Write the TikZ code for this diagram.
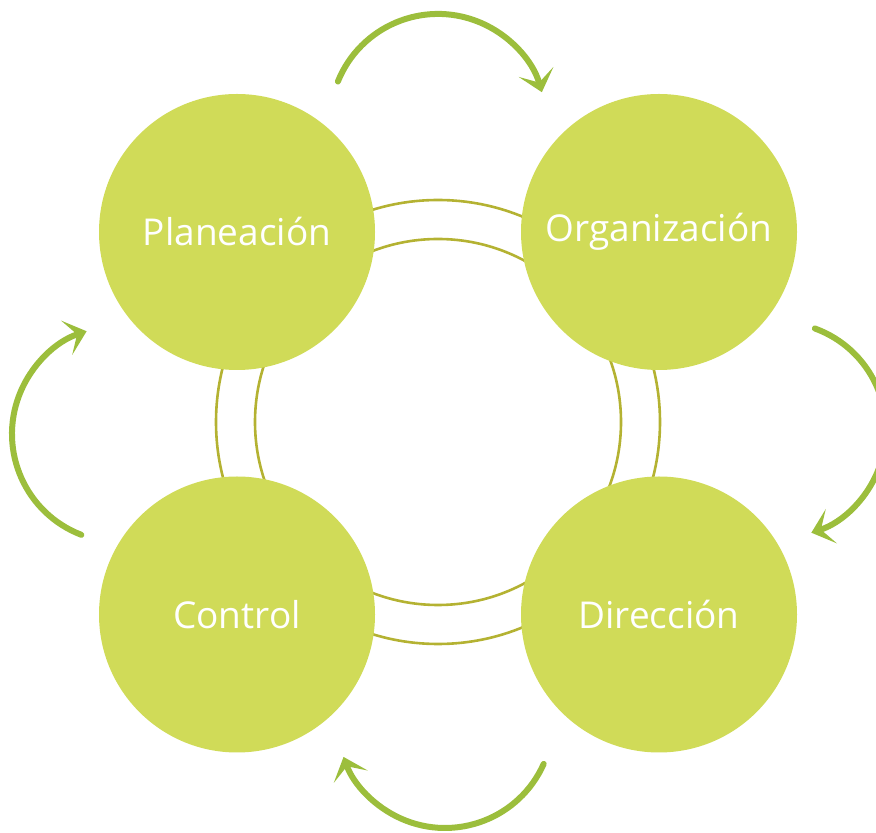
\documentclass[tikz,border=0pt]{standalone}
\usepackage{fontspec}
\setmainfont{Open Sans}
\usepackage{tikz}
\usetikzlibrary{arrows.meta}

\definecolor{phasefill}{RGB}{208,219,88}
\definecolor{ringline}{RGB}{180,178,50}
\definecolor{flowgreen}{RGB}{156,190,60}

\tikzset{
  phase/.style={circle, fill=phasefill, minimum size=276pt, inner sep=0pt,
    text=white, font=\fontsize{37}{40}\selectfont},
  ring/.style={draw=ringline, line width=2.6pt},
  flow/.style={draw=flowgreen, line width=6pt, line cap=round,
    -{Stealth[length=21pt,width=36pt,inset=11pt]}}
}

\begin{document}
\begin{tikzpicture}[x=1pt,y=1pt]
            \clip (0,0) rectangle (876,833);
            \useasboundingbox (0,0) rectangle (876,833);
            % double ring behind the phases
            \draw [ring] (438,411) circle [radius=222];
            \draw [ring] (438,411) circle [radius=183];
            % the four phases
            \node [phase] (plan) at (237,601) {Planeación};
            \node [phase] (org) at (659,601) {Organización};
            \node [phase] (dir) at (659,218.5) {Dirección};
            \node [phase] (ctrl) at (237,218.5) {Control};
            % curved arrows between phases
            \coordinate (planorg) at (337.9,751.5);
            \coordinate (orgdir) at (814.9,504.5);
            \coordinate (dirctrl) at (543.7,69.1);
            \coordinate (ctrlplan) at (81.3,298.2);
            \draw [flow] (planorg) arc [start angle=158, end angle=16, radius=108];
            \draw [flow] (orgdir) arc [start angle=70, end angle=-72, radius=108];
            \draw [flow] (dirctrl) arc [start angle=-24, end angle=-160, radius=108];
            \draw [flow] (ctrlplan) arc [start angle=249, end angle=108, radius=108];
        \end{tikzpicture}
\end{document}
